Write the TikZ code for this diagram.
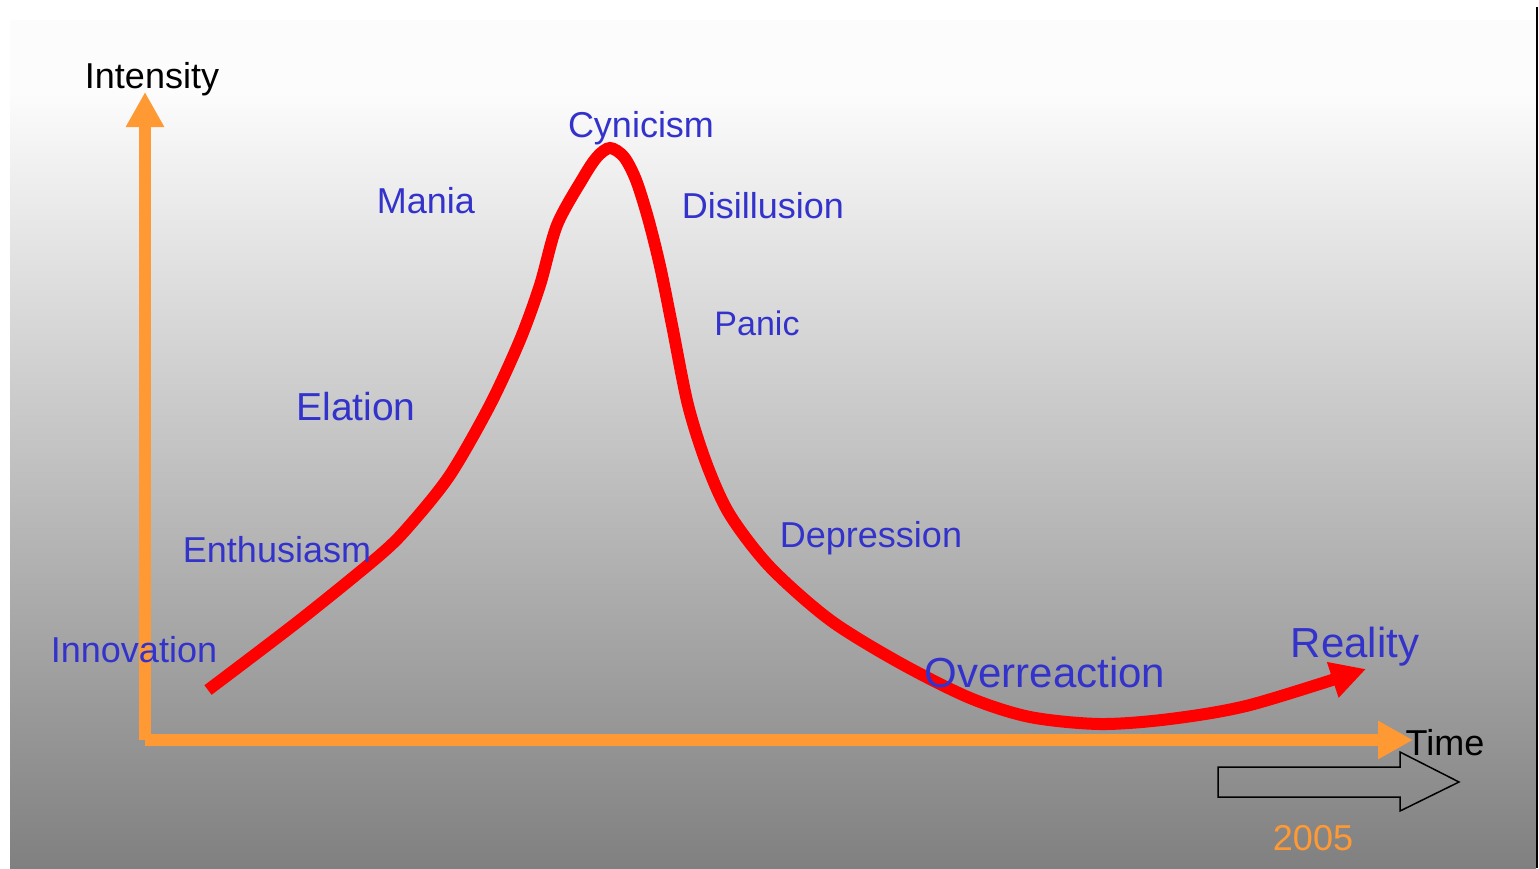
\documentclass[tikz,border=0pt]{standalone}
\usepackage{fontspec}
\setmainfont{Liberation Sans}
\usetikzlibrary{arrows.meta}
\definecolor{arancio}{RGB}{255,153,51}
\definecolor{blutesto}{RGB}{51,51,204}
\definecolor{grigiofondo}{RGB}{128,128,128}

\begin{document}
\begin{tikzpicture}[x=1pt, y=-1pt,
  fase/.style={text=blutesto, font=\fontsize{36}{36}\selectfont, anchor=base, inner sep=0pt},
  fasegrande/.style={fase, font=\fontsize{42}{42}\selectfont},
  titolo/.style={fase, text=black},
  asse/.style={arancio, line width=12pt, -{Triangle[length=35pt, width=36pt]}}]

\useasboundingbox (0,0) rectangle (1539,868);

% sfondo
\fill[white] (0,0) rectangle (1539,868);
\fill[white!99!black] (10,20) rectangle (1536,91);
\shade[top color=white!99!black, bottom color=grigiofondo] (10,90) rectangle (1536,868);
\draw[line width=2pt] (1537,7) -- (1537,868);

% assi
\coordinate (origine) at (145,740);
\coordinate (cima) at (145,92);
\coordinate (fine) at (1413,740);
\draw[asse] (origine) -- (cima);
\draw[asse] (origine) -- (fine);
\node[titolo] (intensita) at (152,88) {Intensity};
\node[titolo] (tempo) at (1445,755) {Time};

% freccia del tempo
\draw[line width=1.5pt] (1218,767) -- (1400,767) -- (1400,752) -- (1459,782)
  -- (1400,811) -- (1400,797) -- (1218,797) -- cycle;
\node[fase, text=arancio] (anno) at (1313,850) {2005};

% curva
\draw[red, line width=12pt, -{Triangle[length=35pt, width=35pt]}]
  plot[smooth, tension=0.5] coordinates {
  (208,690) (300,620) (380,555) (410,525) (450,475) (490,405) (520,340)
  (540,285) (557,225) (583,178) (597,157) (610,148) (624,157) (636,180)
  (648,218) (660,266) (672,325) (688,405) (707,465) (730,515) (770,567)
  (830,620) (900,663) (970,698) (1030,717) (1100,724) (1170,719) (1250,705)
  (1366,669)};

% fasi
\node[fase] (innovazione) at (134,662) {Innovation};
\node[fase] (entusiasmo) at (277,562) {Enthusiasm};
\node[fase, font=\fontsize{39}{39}\selectfont] (euforia) at (356,420) {Elation};
\node[fase] (mania) at (426,213) {Mania};
\node[fase] (cinismo) at (641,137) {Cynicism};
\node[fase] (disillusione) at (763,218) {Disillusion};
\node[fase, font=\fontsize{34}{34}\selectfont] (panico) at (757,335) {Panic};
\node[fase] (depressione) at (871,547) {Depression};
\node[fasegrande] (reazione) at (1045,687) {Overreaction};
\node[fasegrande] (realta) at (1355,657) {Reality};

\end{tikzpicture}
\end{document}
